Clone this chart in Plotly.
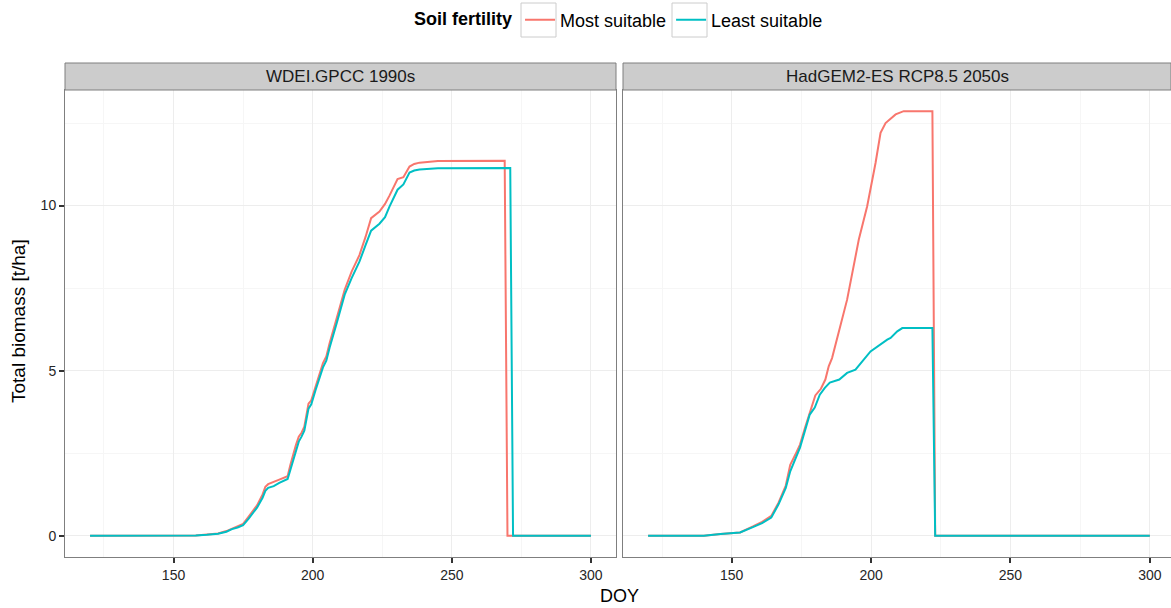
import plotly.graph_objects as go

# ---------------- data ----------------
panels = ["WDEI.GPCC 1990s", "HadGEM2-ES RCP8.5 2050s"]
series_names = ["Most suitable", "Least suitable"]

# Panel 1: WDEI.GPCC 1990s
p1_most_doy = [120, 150, 158, 162, 166, 169, 171, 173, 175, 177, 179, 180, 182, 183, 184, 186,
               188, 191, 192, 194, 195, 196, 197, 198.5, 199.5, 201, 203.7, 204.9, 206.1, 208.5,
               211.5, 214, 216.8, 219, 221, 224, 226, 227.6, 229, 230.5, 232.6, 234.8, 236.5,
               238.4, 245, 255, 269, 270, 285, 300]
p1_most_val = [0, 0, 0.01, 0.04, 0.07, 0.14, 0.22, 0.28, 0.36, 0.58, 0.82, 0.92, 1.25, 1.48, 1.56, 1.62,
               1.7, 1.8, 2.15, 2.75, 3.0, 3.12, 3.3, 4.0, 4.1, 4.5, 5.23, 5.43, 5.84, 6.55,
               7.45, 8.0, 8.5, 9.05, 9.62, 9.82, 10.05, 10.3, 10.55, 10.8, 10.86, 11.18, 11.26,
               11.3, 11.35, 11.36, 11.36, 0, 0, 0]

p1_least_doy = [120, 150, 158, 162, 166, 169, 171, 173, 175, 177, 179, 180, 182, 183, 184, 186,
                188, 191, 192, 194, 195, 196, 197, 198.5, 199.5, 201, 203.7, 204.9, 206.1, 208.5,
                211.5, 214, 216.8, 219, 221, 224, 226, 227.6, 229, 230.5, 232.6, 234.8, 236.5,
                238.4, 245, 255, 271, 272, 285, 300]
p1_least_val = [0, 0, 0.01, 0.03, 0.06, 0.12, 0.2, 0.25, 0.32, 0.52, 0.75, 0.85, 1.15, 1.36, 1.45, 1.5,
                1.6, 1.72, 2.0, 2.6, 2.85, 3.0, 3.18, 3.85, 3.98, 4.4, 5.1, 5.3, 5.7, 6.4,
                7.3, 7.8, 8.3, 8.8, 9.24, 9.45, 9.65, 9.97, 10.2, 10.48, 10.64, 11.0, 11.06,
                11.09, 11.13, 11.14, 11.14, 0, 0, 0]

# Panel 2: HadGEM2-ES RCP8.5 2050s
p2_most_doy = [120, 140, 146, 153, 157.6, 160.9, 164.2, 166.8, 169.4, 171, 172.8, 174.5, 176.3,
               178, 180, 182, 183.6, 184.8, 186, 191.4, 195.6, 198.6, 201.6, 203.4, 205.2, 208.8,
               211.7, 222, 223, 260, 300]
p2_most_val = [0, 0, 0.05, 0.1, 0.28, 0.42, 0.6, 1.0, 1.52, 2.15, 2.45, 2.76, 3.27,
               3.75, 4.25, 4.45, 4.73, 5.13, 5.38, 7.15, 8.97, 9.98, 11.29, 12.2, 12.5, 12.76,
               12.86, 12.86, 0, 0, 0]

p2_least_doy = [120, 140, 146, 153, 157.6, 160.9, 164.2, 166.8, 169.4, 171, 174.5, 178, 179.8,
                181.6, 183.4, 185.2, 188.6, 191.4, 194.4, 197.4, 199.8, 205.8, 207, 209.4, 211.2,
                222, 223, 260, 300]
p2_least_val = [0, 0, 0.05, 0.1, 0.26, 0.38, 0.55, 0.95, 1.45, 1.95, 2.67, 3.67, 3.88,
                4.27, 4.48, 4.64, 4.73, 4.93, 5.03, 5.33, 5.58, 5.94, 5.99, 6.19, 6.29,
                6.29, 0, 0, 0]

x_ticks = [150, 200, 250, 300]
y_ticks = [0, 5, 10]

# ---------------- styling ----------------
FONT = "Liberation Sans, Arial, Helvetica, sans-serif"
RED = "#F8766D"
CYAN = "#00BFC4"
W, H = 1171, 608
ML, MR, MT, MB = 65, 0, 90, 51
PW, PH = W - ML - MR, H - MT - MB


def px_x(p):
    return (p - ML) / PW


def px_y(p):
    return (H - MB - p) / PH


left_dom = [0, 551 / PW]
right_dom = [558 / PW, 1]

fig = go.Figure()

panel_data = [
    ((p1_most_doy, p1_most_val), (p1_least_doy, p1_least_val)),
    ((p2_most_doy, p2_most_val), (p2_least_doy, p2_least_val)),
]
colors = [RED, CYAN]
for pi, pdata in enumerate(panel_data):
    xa = "x" if pi == 0 else "x2"
    ya = "y" if pi == 0 else "y2"
    for si, (dx, dy) in enumerate(pdata):
        fig.add_trace(go.Scatter(
            x=dx, y=dy, mode="lines", name=series_names[si],
            line=dict(color=colors[si], width=2),
            xaxis=xa, yaxis=ya, showlegend=(pi == 0),
            legendgroup=series_names[si],
        ))

axis_common = dict(
    showline=True, mirror=True, linecolor="#7F7F7F", linewidth=1,
    showgrid=True, gridcolor="#EDEDED", gridwidth=1,
    zeroline=False,
    ticks="outside", ticklen=5, tickwidth=1.5, tickcolor="#333333",
    tickfont=dict(family=FONT, size=14, color="#262626"),
)
x_minor = dict(dtick=25, tick0=0, showgrid=True, gridcolor="#F6F6F6", gridwidth=1, ticks="")
y_minor = dict(dtick=2.5, tick0=0, showgrid=True, gridcolor="#F6F6F6", gridwidth=1, ticks="")

yr = [-0.645, 13.5]
fig.update_layout(
    width=W, height=H,
    margin=dict(l=ML, r=MR, t=MT, b=MB, autoexpand=False),
    paper_bgcolor="white", plot_bgcolor="white",
    font=dict(family=FONT, color="black"),
    xaxis=dict(domain=left_dom, range=[111, 309], tickvals=x_ticks, minor=x_minor, anchor="y", **axis_common),
    xaxis2=dict(domain=right_dom, range=[111, 307.6], tickvals=x_ticks, minor=x_minor, anchor="y2", **axis_common),
    yaxis=dict(domain=[0, 1], range=yr, tickvals=y_ticks, minor=y_minor, anchor="x", **axis_common),
    yaxis2=dict(domain=[0, 1], range=yr, tickvals=y_ticks, minor=y_minor, anchor="x2",
                **{**axis_common, "ticks": "", "showticklabels": False}),
    legend=dict(
        orientation="h", xref="paper", x=px_x(620), xanchor="center",
        yref="container", y=1 - 20 / H, yanchor="middle",
        title=dict(text="<b>Soil fertility</b>", font=dict(family=FONT, size=18, color="black")),
        font=dict(family=FONT, size=18, color="black"),
        bgcolor="rgba(0,0,0,0)", itemwidth=30, tracegroupgap=0,
    ),
    showlegend=True,
)

# legend key boxes (ggplot-style)
for bx0, bx1 in [(521, 556), (672, 707)]:
    fig.add_shape(type="rect", xref="paper", yref="paper",
                  x0=px_x(bx0), x1=px_x(bx1), y0=px_y(37), y1=px_y(3),
                  fillcolor="rgba(0,0,0,0)", line=dict(color="#CCCCCC", width=1), layer="below")

# facet strips
strip_y0 = 1.0
strip_y1 = px_y(63)
for dom, label in zip([left_dom, right_dom], panels):
    fig.add_shape(type="rect", xref="paper", yref="paper",
                  x0=dom[0], x1=dom[1], y0=strip_y0, y1=strip_y1,
                  fillcolor="#CCCCCC", line=dict(color="#7F7F7F", width=1), layer="above")
    fig.add_annotation(x=(dom[0] + dom[1]) / 2, y=(strip_y0 + strip_y1) / 2, xref="paper", yref="paper",
                       text=label, showarrow=False, xanchor="center", yanchor="middle",
                       font=dict(family=FONT, size=17, color="#1A1A1A"))

# axis titles
fig.add_annotation(x=px_x(619), y=px_y(596), xref="paper", yref="paper",
                   text="DOY", showarrow=False, xanchor="center", yanchor="middle",
                   font=dict(family=FONT, size=18, color="black"))
fig.add_annotation(x=px_x(18), y=px_y(321), xref="paper", yref="paper",
                   text="Total biomass [t/ha]", textangle=-90, showarrow=False,
                   xanchor="center", yanchor="middle",
                   font=dict(family=FONT, size=19, color="black"))

fig.write_html("out.html")
